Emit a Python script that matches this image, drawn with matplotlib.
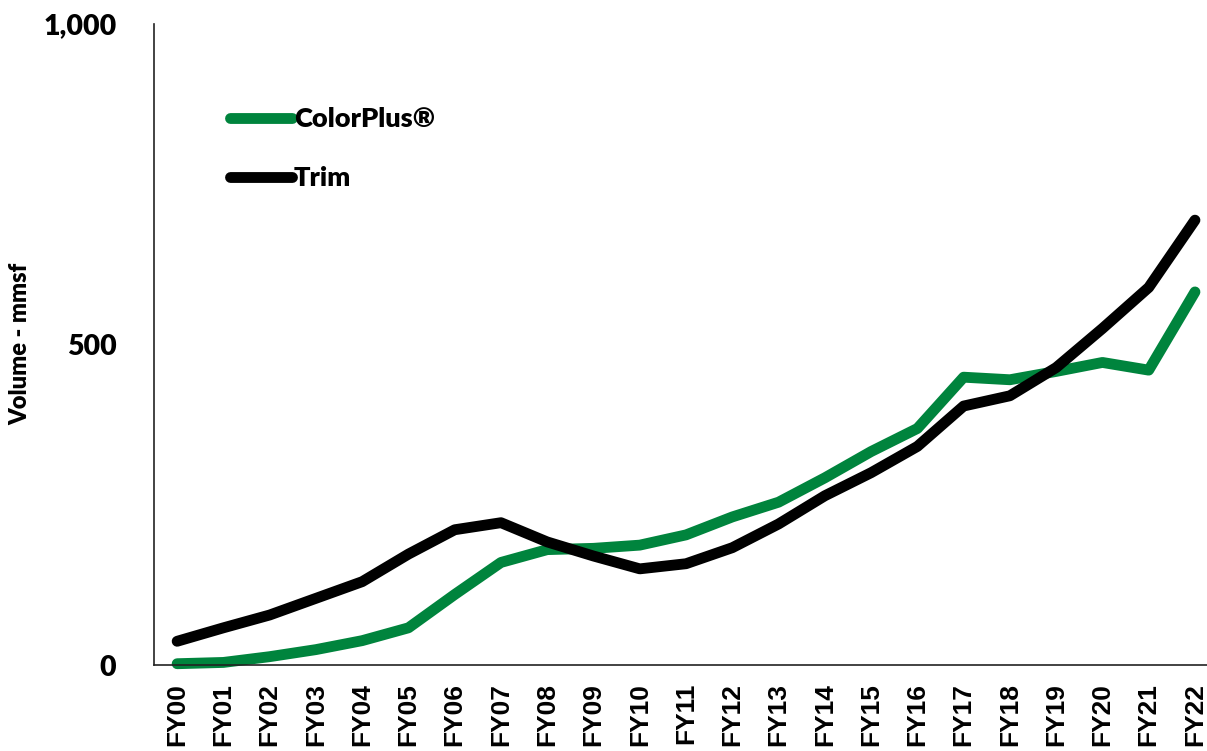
import matplotlib
matplotlib.use('Agg')
import matplotlib.pyplot as plt
from matplotlib.ticker import FuncFormatter

# data
years = ['FY%02d' % i for i in range(23)]
colorplus = [2, 4, 13, 24, 38, 58, 110, 160, 180, 182, 187, 203, 231, 254, 292,
             333, 369, 449, 445, 458, 472, 460, 582]
trim = [37, 58, 78, 104, 130, 173, 211, 222, 192, 170, 150, 158, 183, 220, 264,
        300, 341, 404, 420, 464, 525, 589, 694]
yticks = [0, 500, 1000]

green = '#00843D'
W, H = 1207, 751

fig = plt.figure(figsize=(W / 100, H / 100), dpi=100)
ax = fig.add_axes([154 / W, 1 - 665 / H, 1 - 154 / W, (665 - 24) / H])

x = list(range(len(years)))
ax.plot(x, colorplus, color=green, lw=7.8, solid_capstyle='round', clip_on=False, label='ColorPlus®')
ax.plot(x, trim, color='black', lw=7.8, solid_capstyle='round', clip_on=False, label='Trim')

ax.set_xlim(-0.5, 22.26)
ax.set_ylim(0, 1000)
ax.set_yticks(yticks)
ax.yaxis.set_major_formatter(FuncFormatter(lambda v, p: '{:,.0f}'.format(v)))
ax.set_xticks(x)
ax.set_xticklabels(years, rotation=90, fontsize=19, fontweight='bold', family='Liberation Sans')
for t in ax.get_yticklabels():
    t.set_fontsize(20.5)
    t.set_fontweight('heavy')
    t.set_family('Lato')
ax.tick_params(axis='both', length=0)
ax.tick_params(axis='y', pad=27)
ax.tick_params(axis='x', pad=13)

for s in ['top', 'right']:
    ax.spines[s].set_visible(False)
for s in ['left', 'bottom']:
    ax.spines[s].set_linewidth(1.2)
    ax.spines[s].set_color('#222222')

fig.text(20 / W, 1 - 344 / H, 'Volume - mmsf', rotation=90, ha='center', va='center',
         fontsize=17, fontweight='heavy', family='Lato')

ax.legend(loc='upper left', bbox_to_anchor=(230 / W, 1 - 107 / H), bbox_transform=fig.transFigure,
          frameon=False, borderpad=0, borderaxespad=0, handlelength=2.3, handletextpad=0.05,
          labelspacing=1.3, prop={'family': 'Lato', 'weight': 'heavy', 'size': 19.5})

plt.savefig('out.png', dpi=100)
